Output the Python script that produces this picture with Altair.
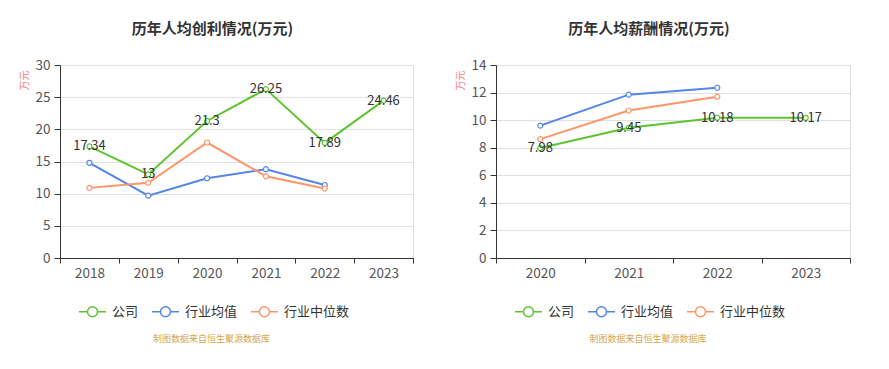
import altair as alt
import pandas as pd

# ---- data ----
years_profit = ["2018", "2019", "2020", "2021", "2022", "2023"]
company_profit = [17.34, 13, 21.3, 26.25, 17.89, 24.46]
industry_avg_profit = [14.8, 9.7, 12.4, 13.8, 11.35]
industry_median_profit = [10.9, 11.7, 17.95, 12.7, 10.8]

years_salary = ["2020", "2021", "2022", "2023"]
company_salary = [7.98, 9.45, 10.18, 10.17]
industry_avg_salary = [9.6, 11.85, 12.35]
industry_median_salary = [8.62, 10.7, 11.7]

series_names = ["公司", "行业均值", "行业中位数"]
series_colors = ["#5ec42e", "#5585e6", "#ff9566"]

source_text = "制图数据来自恒生聚源数据库"
FONT = "Noto Sans CJK SC"

legend_path = ("M-1,0L-0.37,0M0.37,0L1,0M0.37,0A0.37,0.37,0,1,1,-0.37,0"
               "A0.37,0.37,0,1,1,0.37,0Z")


def build_df(years, lists):
    rows = []
    for name, vals in zip(series_names, lists):
        for y, v in zip(years, vals):
            rows.append({"year": y, "value": v, "series": name})
    return pd.DataFrame(rows)


def panel(title, years, lists, ymax, ystep, W, H):
    df = build_df(years, lists)
    ticks = list(range(0, ymax + 1, ystep))
    x = alt.X("year:N", sort=years, title=None,
              scale=alt.Scale(paddingInner=0, paddingOuter=0),
              axis=alt.Axis(labelAngle=0, tickBand="extent", domainColor="#333",
                            tickColor="#333", tickSize=5, labelFontSize=13.5,
                            labelColor="#555", labelPadding=3, grid=False,
                            labelFont=FONT))
    y = alt.Y("value:Q", title="万元",
              scale=alt.Scale(domain=[0, ymax], nice=False),
              axis=alt.Axis(values=ticks, grid=True, gridColor="#e0e0e0",
                            domainColor="#333", tickColor="#333", tickSize=6,
                            labelFontSize=13.5, labelColor="#555", labelPadding=4,
                            labelFont=FONT, titleColor="#f47c7c", titleFontSize=10,
                            titleFontWeight="normal", titleFont=FONT,
                            titleX=-36, titleY=15, titleAlign="center",
                            titleBaseline="middle"))
    color = alt.Color("series:N", scale=alt.Scale(domain=series_names, range=series_colors),
                      legend=alt.Legend(orient="none", legendX=18, legendY=232,
                                        direction="horizontal", title=None,
                                        symbolType=legend_path, symbolSize=729,
                                        symbolFillColor="white", symbolStrokeWidth=1.5,
                                        labelFontSize=13, labelColor="#333",
                                        labelFont=FONT, columnPadding=10, labelOffset=5))
    base = alt.Chart(df).encode(x=x, y=y)
    lines = base.mark_line(strokeWidth=2).encode(color=color)
    pts = base.mark_point(filled=True, fill="white", size=25, strokeWidth=1.2, opacity=1).encode(
        stroke=alt.Stroke("series:N", scale=alt.Scale(domain=series_names, range=series_colors),
                          legend=None))
    labels = base.transform_filter(alt.datum.series == "公司").mark_text(
        fontSize=13, color="#333", font=FONT, baseline="middle").encode(
        text=alt.Text("value:Q"))
    src = alt.Chart(pd.DataFrame({"t": [source_text]})).mark_text(
        fontSize=9, color="#d4a84a", font=FONT).encode(
        text="t:N", x=alt.value(W / 2 - 25), y=alt.value(274))
    return alt.layer(lines, pts, labels, src).properties(
        width=W, height=H,
        title=alt.TitleParams(title, fontSize=15, fontWeight="bold", color="#333",
                              font=FONT, anchor="middle", dx=-24, offset=21))


left = panel("历年人均创利情况(万元)", years_profit,
             [company_profit, industry_avg_profit, industry_median_profit], 30, 5, 353, 193)
right = panel("历年人均薪酬情况(万元)", years_salary,
              [company_salary, industry_avg_salary, industry_median_salary], 14, 2, 354, 193)

chart = alt.hconcat(left, right, spacing=40).resolve_legend(
    color="independent", stroke="independent").resolve_scale(
    color="independent", stroke="independent").configure_view(stroke=None).configure(
    background="white").properties(padding={"left": 10, "top": 13, "right": 5, "bottom": 5})

chart.save("out.html", embed_options={"renderer": "svg", "actions": False})
